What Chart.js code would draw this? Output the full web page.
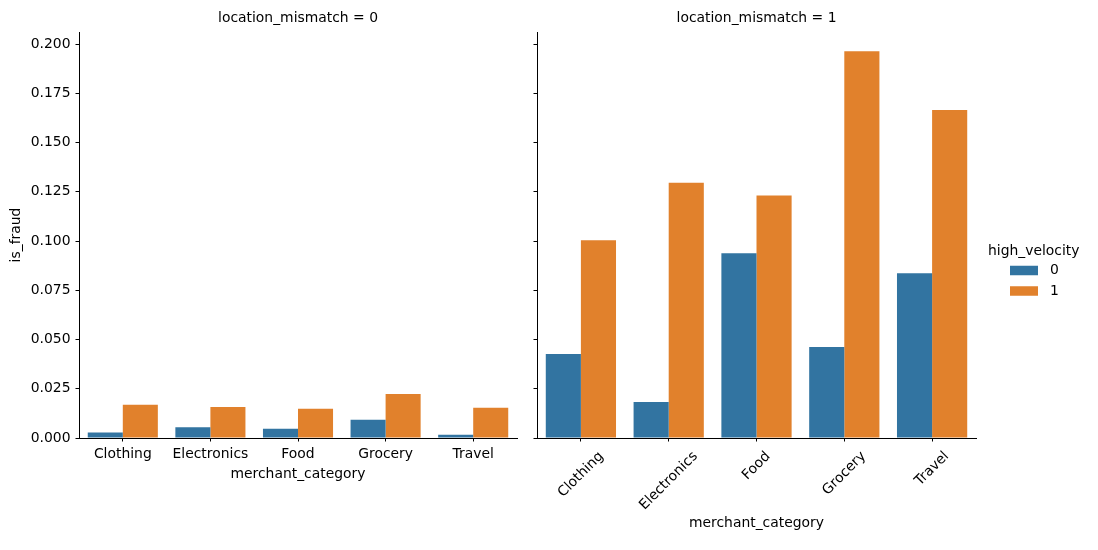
<!DOCTYPE html>
<html>
<head>
<meta charset="utf-8">
<script src="https://cdn.jsdelivr.net/npm/chart.js@4.4.1/dist/chart.umd.min.js"></script>
<style>
  html, body { margin: 0; padding: 0; background: #fff; }
  #wrap { position: relative; width: 1098px; height: 550px; }
  canvas { position: absolute; top: 0; }
  #left { left: 0; }
  #right { left: 525px; }
</style>
</head>
<body>
<div id="wrap">
  <canvas id="left" width="525" height="550"></canvas>
  <canvas id="right" width="573" height="550"></canvas>
</div>
<script>
// Data (mean is_fraud)
const CATEGORIES = ["Clothing", "Electronics", "Food", "Grocery", "Travel"];
const HUE_LABELS = ["0", "1"];
const MISMATCH0_HV0 = [0.0028, 0.0054, 0.0047, 0.0093, 0.0017];
const MISMATCH0_HV1 = [0.0169, 0.0158, 0.0148, 0.0224, 0.0154];
const MISMATCH1_HV0 = [0.0426, 0.0183, 0.0938, 0.0462, 0.0837];
const MISMATCH1_HV1 = [0.1004, 0.1297, 0.1231, 0.1964, 0.1666];
const Y_MAX = 0.2062;
const Y_STEP = 0.025;

const BLUE = '#3274a1';
const ORANGE = '#e1812c';
const FONT = 'DejaVu Sans';
const FS = 13.9;
const INK = '#000';

Chart.defaults.font.family = FONT;
Chart.defaults.font.size = FS;
Chart.defaults.color = INK;

// facet title, centred over the plot area
const panelTitle = {
    id: 'panelTitle',
    afterDraw(chart, args, opts) {
        const { ctx, chartArea } = chart;
        ctx.save();
        ctx.font = `${FS}px "${FONT}"`;
        ctx.fillStyle = INK;
        ctx.textAlign = 'center';
        ctx.textBaseline = 'middle';
        ctx.fillText(opts.text, (chartArea.left + chartArea.right) / 2, 18);
        ctx.restore();
    }
};

// 45 degree labels centred under each tick (matplotlib style)
const rotatedTicks = {
    id: 'rotatedTicks',
    afterDraw(chart) {
        const x = chart.scales.x;
        const ctx = chart.ctx;
        ctx.save();
        ctx.font = `${FS}px "${FONT}"`;
        ctx.fillStyle = INK;
        ctx.textAlign = 'center';
        ctx.textBaseline = 'middle';
        const top = x.top + 3.5 + 7;
        chart.data.labels.forEach((label, i) => {
            const w = ctx.measureText(label).width;
            const half = (w + 16) * Math.SQRT1_2 / 2;
            ctx.save();
            ctx.translate(x.getPixelForValue(i), top + half);
            ctx.rotate(-Math.PI / 4);
            ctx.fillText(label, 0, 0);
            ctx.restore();
        });
        ctx.restore();
    }
};

// hue legend to the right of the last facet
const hueLegend = {
    id: 'hueLegend',
    afterDraw(chart, args, opts) {
        const ctx = chart.ctx;
        const x0 = chart.chartArea.right;
        ctx.save();
        ctx.font = `${FS}px "${FONT}"`;
        ctx.fillStyle = INK;
        ctx.textAlign = 'left';
        ctx.textBaseline = 'middle';
        ctx.fillText(opts.title, x0 + 12, 251);
        chart.data.datasets.forEach((ds, i) => {
            const y = 270.5 + i * 20.5;
            ctx.fillStyle = ds.backgroundColor;
            ctx.fillRect(x0 + 34, y - 4.75, 28, 9.5);
            ctx.fillStyle = INK;
            ctx.fillText(ds.label, x0 + 74, y);
        });
        ctx.restore();
    }
};

function makeDatasets(v0, v1) {
    return [
        { label: HUE_LABELS[0], data: v0, backgroundColor: BLUE, borderWidth: 0,
          categoryPercentage: 0.8, barPercentage: 1.0 },
        { label: HUE_LABELS[1], data: v1, backgroundColor: ORANGE, borderWidth: 0,
          categoryPercentage: 0.8, barPercentage: 1.0 }
    ];
}

function axisGrid() {
    return { display: true, drawOnChartArea: false, drawTicks: true, tickLength: 3.5,
             color: INK, lineWidth: 1, offset: false };
}

function makeChart(id, values0, values1, facet, first) {
    const xTitlePad = first ? 67 : 18;
    return new Chart(document.getElementById(id), {
        type: 'bar',
        data: { labels: CATEGORIES, datasets: makeDatasets(values0, values1) },
        plugins: first ? [panelTitle] : [panelTitle, rotatedTicks, hueLegend],
        options: {
            responsive: false,
            animation: false,
            layout: { padding: { top: 32, right: first ? 8 : 122, left: 0, bottom: 0 } },
            plugins: {
                legend: { display: false },
                tooltip: { enabled: false },
                panelTitle: { text: `location_mismatch = ${facet}` },
                hueLegend: { title: 'high_velocity' }
            },
            scales: {
                x: {
                    grid: axisGrid(),
                    border: { display: true, color: INK, width: 1 },
                    ticks: { display: first, maxRotation: 0, minRotation: 0, padding: 5,
                             font: { size: FS } },
                    title: { display: true, text: 'merchant_category', font: { size: FS },
                             padding: { top: 0, bottom: xTitlePad } },
                    afterFit: s => { s.height = 112; }
                },
                y: {
                    min: 0,
                    max: Y_MAX,
                    grid: axisGrid(),
                    border: { display: true, color: INK, width: 1 },
                    ticks: { display: first, stepSize: Y_STEP, includeBounds: false, padding: 5,
                             font: { size: FS }, callback: v => v.toFixed(3) },
                    title: { display: first, text: 'is_fraud', font: { size: FS },
                             padding: { top: 8, bottom: 0 } },
                    afterFit: s => { s.width = first ? 79 : 12; }
                }
            }
        }
    });
}

makeChart('left', MISMATCH0_HV0, MISMATCH0_HV1, 0, true);
makeChart('right', MISMATCH1_HV0, MISMATCH1_HV1, 1, false);
</script>
</body>
</html>
